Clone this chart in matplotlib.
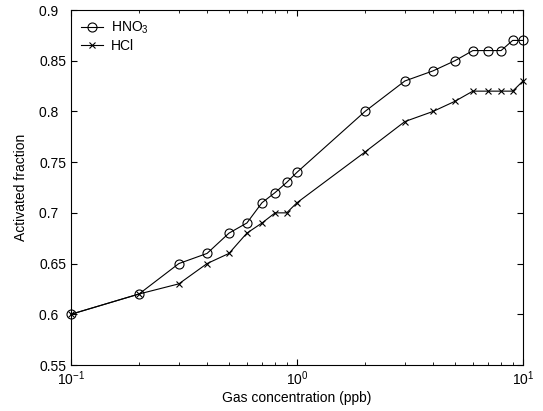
import matplotlib
matplotlib.use("Agg")
import matplotlib.pyplot as plt
from matplotlib.ticker import FuncFormatter

# Dados
conc = [0.1, 0.2, 0.3, 0.4, 0.5, 0.6, 0.7, 0.8, 0.9, 1, 2, 3, 4, 5, 6, 7, 8, 9, 10]
hno3 = [0.60, 0.62, 0.65, 0.66, 0.68, 0.69, 0.71, 0.72, 0.73, 0.74,
        0.80, 0.83, 0.84, 0.85, 0.86, 0.86, 0.86, 0.87, 0.87]
hcl = [0.60, 0.62, 0.63, 0.65, 0.66, 0.68, 0.69, 0.70, 0.70, 0.71,
       0.76, 0.79, 0.80, 0.81, 0.82, 0.82, 0.82, 0.82, 0.83]

plt.rcParams['font.family'] = ['Liberation Sans', 'DejaVu Sans']
plt.rcParams['mathtext.fontset'] = 'custom'
plt.rcParams['mathtext.rm'] = 'Liberation Sans'

fig = plt.figure(figsize=(5.43, 4.11), dpi=100)
ax = fig.add_axes([71 / 543, 46 / 411, 452 / 543, 355 / 411])

ax.plot(conc, hno3, color='black', lw=0.8, marker='o', ms=6.5, mfc='none', mew=0.8,
        label=r'HNO$_3$', clip_on=False)
ax.plot(conc, hcl, color='black', lw=0.8, marker='x', ms=5, mew=0.8, label='HCl',
        clip_on=False)

ax.set_xscale('log')
ax.set_xlim(0.1, 10)
ax.set_ylim(0.55, 0.9)
ax.set_yticks([0.55, 0.6, 0.65, 0.7, 0.75, 0.8, 0.85, 0.9])
# rótulos com largura fixa, como no original
ax.yaxis.set_major_formatter(FuncFormatter(lambda v, p: f"{v:g}" + "  " * (4 - len(f"{v:g}"))))
ax.tick_params(which='both', direction='in', top=True, right=True, labelsize=10)
ax.tick_params(which='major', length=4)
ax.tick_params(which='minor', length=2.5)
for s in ax.spines.values():
    s.set_linewidth(0.8)

ax.set_xlabel('Gas concentration (ppb)', fontsize=10, labelpad=2)
ax.set_ylabel('Activated fraction', fontsize=10, labelpad=8)

ax.legend(loc='upper left', frameon=False, fontsize=10, handlelength=1.6,
          borderaxespad=0.3, labelspacing=0.2, handletextpad=0.6)

plt.savefig('out.png', dpi=100)
